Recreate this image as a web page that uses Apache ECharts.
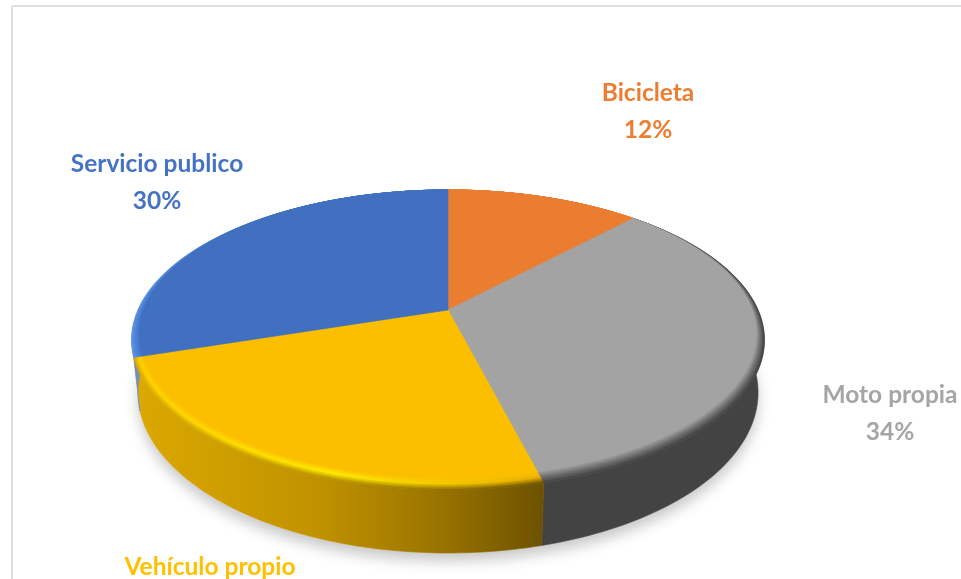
<!DOCTYPE html>
<html>
<head>
<meta charset="utf-8">
<style>
html, body { margin: 0; padding: 0; background: #fff; }
#main { width: 961px; height: 579px; }
</style>
<script src="https://cdn.jsdelivr.net/npm/echarts@6/dist/echarts.min.js"></script>
</head>
<body>
<div id="main"></div>
<script>
// datos
var categorias = ['Bicicleta', 'Moto propia', 'Vehículo propio', 'Servicio publico'];
var valores = [12, 34, 24, 30];

// estilos
var coloresTexto = ['#ED7D31', '#A5A5A5', '#FFC000', '#4472C4'];
var biselColores = [
    ['#EB7D31', '#EB7D31'],
    ['#444444', '#707070', '#A3A3A3', '#A3A3A3'],
    null,
    ['#5A92E6', '#4E82D6', '#4170C0', '#4170C0']
];
// el bisel amarillo cambia de izquierda a derecha
var biselAmarillo = [
    ['#DCA800', '#FFD000', '#FBBF00', '#FBBF00'],
    ['#B89000', '#FFEA00', '#FBBF00', '#FBBF00'],
    ['#6E5200', '#E8AE00', '#FBBF00', '#FBBF00']
];
var etiquetaPos = [[648, 112], [890, 414], [210, 586], [157, 183]];

// geometria del disco en perspectiva
var cx = 448, cy = 310, radioX = 310, radioY = 144, k = 0.2;
var alto = 50.4, encoge = 0.98, bisel = 0.08, anillos = 12;
var total = valores.reduce(function (a, b) { return a + b; }, 0);

function punto(t, r) {
    var u = Math.sin(t) * r, v = -Math.cos(t) * r;
    var d = 1 - k * v;
    return [cx + radioX * u / d, cy + radioY * v / d];
}

function puntoBase(t) {
    var p = punto(t, 1);
    var d = 1 + k * Math.cos(t);
    return [cx + (p[0] - cx) * encoge, p[1] + alto / d];
}

function arco(a0, a1) {
    var n = Math.max(2, Math.ceil((a1 - a0) / 0.02)), lista = [];
    for (var i = 0; i <= n; i++) {
        lista.push(a0 + (a1 - a0) * i / n);
    }
    return lista;
}

function poligono(puntos, relleno, z, extra) {
    var estilo = { fill: relleno, stroke: relleno, lineWidth: 0.6 };
    for (var key in extra) {
        estilo[key] = extra[key];
    }
    return { type: 'polygon', z2: z, silent: true, shape: { points: puntos }, style: estilo };
}

function paredColor(i) {
    if (i === 2) {
        return new echarts.graphic.LinearGradient(135, 0, 541, 0, [
            { offset: 0, color: '#DCA800' },
            { offset: 0.45, color: '#C09200' },
            { offset: 0.75, color: '#9A7400' },
            { offset: 1, color: '#6E5200' }
        ], true);
    }
    return i === 1 ? '#434343' : i === 3 ? '#6F8FBF' : '#B35E24';
}

function anilloColor(i, x) {
    if (i !== 2) {
        return echarts.color.lerp(x, biselColores[i]);
    }
    return new echarts.graphic.LinearGradient(135, 0, 541, 0, [
        { offset: 0, color: echarts.color.lerp(x, biselAmarillo[0]) },
        { offset: 0.5, color: echarts.color.lerp(x, biselAmarillo[1]) },
        { offset: 1, color: echarts.color.lerp(x, biselAmarillo[2]) }
    ], true);
}

function renderItem(params, api) {
    var i = params.dataIndex;
    var valor = api.value(0);
    var acumulado = 0;
    for (var s = 0; s < i; s++) {
        acumulado += valores[s];
    }
    var a0 = acumulado / total * Math.PI * 2;
    var a1 = (acumulado + valor) / total * Math.PI * 2;
    var angulos = arco(a0, a1);
    var hijos = [];

    // sombra bajo el disco
    var base = angulos.map(puntoBase);
    hijos.push(poligono(base.concat([[cx, cy + alto]]), '#fff', 1, {
        stroke: null,
        shadowBlur: 14,
        shadowOffsetY: 8,
        shadowColor: 'rgba(0,0,0,0.22)'
    }));

    // pared lateral
    var arriba = angulos.map(function (t) { return punto(t, 1); });
    hijos.push(poligono(arriba.concat(base.slice().reverse()), paredColor(i), 2));

    // cara superior con bisel, de fuera hacia dentro
    for (var j = 0; j <= anillos; j++) {
        var puntos = [[cx, cy]];
        angulos.forEach(function (t) {
            var f = Math.pow((1 - Math.cos(t)) / 2, 1.5);
            puntos.push(punto(t, 1 - j / anillos * bisel * f));
        });
        hijos.push(poligono(puntos, anilloColor(i, j / anillos), 3 + j));
    }

    // etiqueta
    hijos.push({
        type: 'text',
        z2: 30,
        silent: true,
        x: etiquetaPos[i][0],
        y: etiquetaPos[i][1],
        style: {
            text: categorias[i] + '\n' + valor + '%',
            fill: coloresTexto[i],
            font: 'bold 24.5px Lato',
            align: 'center',
            verticalAlign: 'middle',
            lineHeight: 37
        }
    });

    return { type: 'group', children: hijos };
}

var myChart = echarts.init(document.getElementById('main'));

myChart.setOption({
    backgroundColor: '#fff',
    animation: false,
    graphic: [
        { type: 'line', shape: { x1: 12, y1: 6, x2: 961, y2: 6 }, style: { stroke: '#DEDEDE', lineWidth: 2 } },
        { type: 'line', shape: { x1: 12, y1: 6, x2: 12, y2: 579 }, style: { stroke: '#DEDEDE', lineWidth: 2 } }
    ],
    series: [{
        type: 'custom',
        coordinateSystem: 'none',
        renderItem: renderItem,
        data: valores.map(function (v, i) { return { name: categorias[i], value: [v] }; })
    }]
});
</script>
</body>
</html>
